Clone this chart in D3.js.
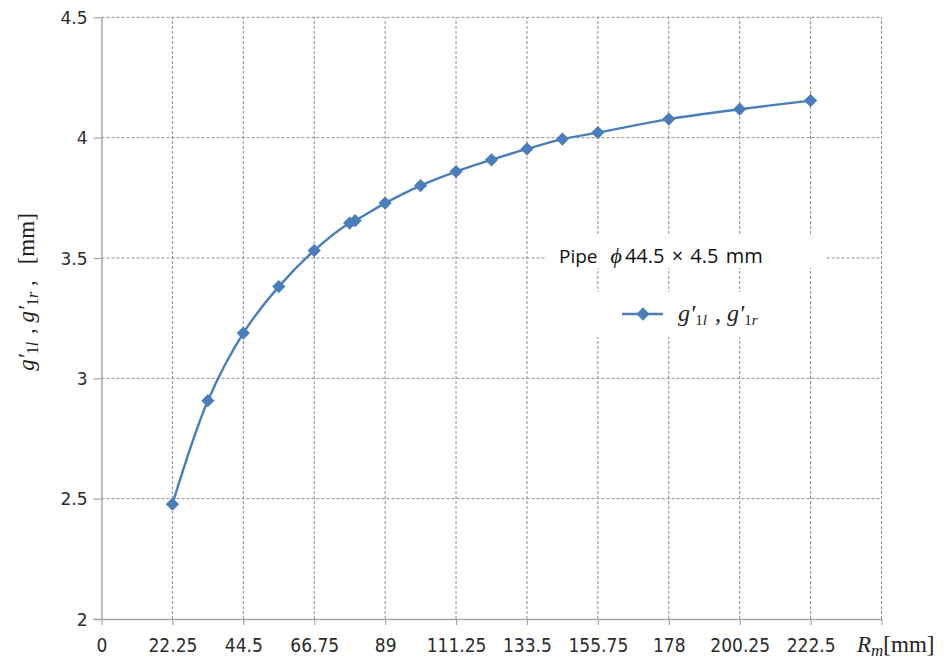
<!DOCTYPE html>
<html>
<head>
<meta charset="utf-8">
<script src="https://cdn.jsdelivr.net/npm/d3@7"></script>
<style>
  html, body { margin: 0; padding: 0; background: #fff; }
  svg { display: block; }
</style>
</head>
<body>
<svg id="chart" width="950" height="659"></svg>
<script>
// ---- data ----
const radii = [22.25, 33.375, 44.5, 55.625, 66.75, 77.875, 79.6, 89, 100.125, 111.25, 122.375, 133.5, 144.625, 155.75, 178, 200.25, 222.5];
const gValues = [2.477, 2.907, 3.188, 3.381, 3.531, 3.645, 3.655, 3.728, 3.801, 3.859, 3.908, 3.953, 3.994, 4.021, 4.077, 4.118, 4.154];
const xTickValues = [0, 22.25, 44.5, 66.75, 89, 111.25, 133.5, 155.75, 178, 200.25, 222.5, 244.75];
const xTickLabels = ["0", "22.25", "44.5", "66.75", "89", "111.25", "133.5", "155.75", "178", "200.25", "222.5", ""];
const yTickValues = [2, 2.5, 3, 3.5, 4, 4.5];
const yTickLabels = ["2", "2.5", "3", "3.5", "4", "4.5"];
const pipeLabel = "Pipe";
const pipeSpec = "44.5 × 4.5 mm";

const svg = d3.select("#chart");
const margin = { left: 101.5, right: 950 - 881.5, top: 17.3, bottom: 659 - 619 };
const W = 950, H = 659;

const x = d3.scaleLinear().domain([0, 244.75]).range([margin.left, W - margin.right]);
const y = d3.scaleLinear().domain([2, 4.5]).range([H - margin.bottom, margin.top]);

const gridColor = "#8c8c8c";
const axisColor = "#a6a6a6";
const blue = "#4a7ebb";

// grid
const grid = svg.append("g");
grid.selectAll("line.vg").data(xTickValues.slice(1)).enter().append("line")
  .attr("x1", d => x(d)).attr("x2", d => x(d))
  .attr("y1", y(2)).attr("y2", y(4.5))
  .attr("stroke", gridColor).attr("stroke-width", 1).attr("stroke-dasharray", "3,2");
grid.selectAll("line.hg").data(yTickValues.slice(1)).enter().append("line")
  .attr("x1", x(0)).attr("x2", x(244.75))
  .attr("y1", d => y(d)).attr("y2", d => y(d))
  .attr("stroke", gridColor).attr("stroke-width", 1).attr("stroke-dasharray", "3,2");

// axes
const xAxis = d3.axisBottom(x).tickValues(xTickValues).tickSize(6)
  .tickFormat((d, i) => xTickLabels[i]);
const gx = svg.append("g").attr("transform", `translate(0,${y(2)})`).call(xAxis);
gx.select(".domain").attr("stroke", axisColor).attr("stroke-width", 1.5)
  .attr("d", `M${x(0) - 8},0.5H${x(244.75)}`);
gx.selectAll(".tick line").attr("stroke", axisColor).attr("stroke-width", 1.2);
gx.selectAll(".tick text")
  .attr("font-family", "'Liberation Sans Narrow', 'DejaVu Sans Condensed', 'Arial Narrow', sans-serif")
  .attr("font-size", 19).attr("fill", "#2b2b2b").attr("dy", 0).attr("y", 33);

const yAxis = d3.axisLeft(y).tickValues(yTickValues).tickSize(8)
  .tickFormat((d, i) => yTickLabels[i]);
const gy = svg.append("g").attr("transform", `translate(${x(0)},0)`).call(yAxis);
gy.select(".domain").attr("stroke", axisColor).attr("stroke-width", 1.5)
  .attr("d", `M0.5,${y(4.5)}V${y(2)}`);
gy.selectAll(".tick line").attr("stroke", axisColor).attr("stroke-width", 1.2);
gy.selectAll(".tick text")
  .attr("font-family", "'DejaVu Sans', Verdana, sans-serif")
  .attr("font-size", 17).attr("fill", "#2b2b2b").attr("x", -14).attr("dy", "0.36em");

// data line
const pts = radii.map((r, i) => [r, gValues[i]]);
const line = d3.line().x(d => x(d[0])).y(d => y(d[1])).curve(d3.curveCatmullRom.alpha(0.5));
svg.append("path").datum(pts).attr("d", line)
  .attr("fill", "none").attr("stroke", blue).attr("stroke-width", 2.4);

const diamond = d3.symbol().type(d3.symbolSquare).size(88);
svg.selectAll("path.mk").data(pts).enter().append("path")
  .attr("class", "mk")
  .attr("d", diamond)
  .attr("transform", d => `translate(${x(d[0])},${y(d[1])}) rotate(45)`)
  .attr("fill", blue);

// text box: Pipe spec (white background)
svg.append("rect").attr("x", 545).attr("y", 235).attr("width", 280).attr("height", 33).attr("fill", "#fff");
const tb = svg.append("text").attr("x", 559).attr("y", 263)
  .attr("font-family", "'Open Sans', 'Noto Sans', sans-serif").attr("font-size", 19).attr("fill", "#111");
tb.append("tspan").text(pipeLabel);
tb.append("tspan").attr("dx", 13).attr("font-family", "'Liberation Serif', 'DejaVu Serif', serif")
  .attr("font-style", "italic").attr("font-size", 22).text("ϕ");
tb.append("tspan").attr("dx", 3).attr("font-size", 20).attr("word-spacing", 2).text(pipeSpec);

// legend box
svg.append("rect").attr("x", 588).attr("y", 292).attr("width", 214).attr("height", 45).attr("fill", "#fff");
svg.append("line").attr("x1", 622).attr("x2", 663).attr("y1", 314).attr("y2", 314)
  .attr("stroke", blue).attr("stroke-width", 2.4);
svg.append("path").attr("d", diamond).attr("transform", "translate(643,314) rotate(45)").attr("fill", blue);

function mathLabel(sel, parts) {
  parts.forEach(p => {
    const t = sel.append("tspan").text(p.t);
    if (p.italic) t.attr("font-style", "italic");
    if (p.sub) t.attr("font-size", p.sub).attr("baseline-shift", p.shift || "-25%");
    if (p.dx) t.attr("dx", p.dx);
  });
}

const lg = svg.append("text").attr("x", 678).attr("y", 321)
  .attr("font-family", "'Liberation Serif', 'DejaVu Serif', serif").attr("font-size", 24).attr("fill", "#222");
mathLabel(lg, [
  { t: "g′", italic: true },
  { t: "1", sub: 15 },
  { t: "l", italic: true, sub: 15 },
  { t: " , ", dx: 2 },
  { t: "g′", italic: true },
  { t: "1", sub: 15 },
  { t: "r", italic: true, sub: 15 }
]);

// y-axis title
const yt = svg.append("text").attr("transform", "translate(34,292) rotate(-90)")
  .attr("text-anchor", "middle")
  .attr("font-family", "'Liberation Serif', 'DejaVu Serif', serif").attr("font-size", 23).attr("fill", "#222");
mathLabel(yt, [
  { t: "g′", italic: true },
  { t: "1", sub: 16 },
  { t: "l", italic: true, sub: 16 },
  { t: " , ", dx: 2 },
  { t: "g′", italic: true },
  { t: "1", sub: 16 },
  { t: "r", italic: true, sub: 16 },
  { t: " ," },
  { t: "[mm]", dx: 16 }
]);

// x-axis title
const xt = svg.append("text").attr("x", 857).attr("y", 652)
  .attr("font-family", "'Liberation Serif', 'DejaVu Serif', serif").attr("font-size", 23).attr("fill", "#222");
mathLabel(xt, [
  { t: "R", italic: true },
  { t: "m", italic: true, sub: 17 },
  { t: "[mm]" }
]);
</script>
</body>
</html>
